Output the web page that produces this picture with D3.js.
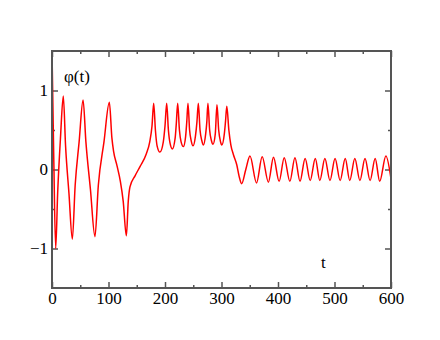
<!DOCTYPE html>
<html>
<head>
<meta charset="utf-8">
<script src="https://cdn.jsdelivr.net/npm/d3@7"></script>
<style>
  body { margin: 0; background: #fff; }
  text { font-family: "Liberation Serif", "DejaVu Serif", serif; }
</style>
</head>
<body>
<div id="chart"></div>
<script>
// values
var tValues = [0, 3, 6.5, 10, 15, 20, 24, 30, 36, 41, 48, 55, 60, 68, 76, 82, 92, 101.5,
  106, 109, 115, 121, 126, 131.6, 135, 138, 147, 156, 167, 173, 177, 180,
  183, 186, 191, 197, 200, 203, 206, 209, 213, 218, 220, 222.5, 225.5, 228.5, 232.5,
  236.5, 238.5, 240.7, 243.5, 246.5, 249.6, 254, 256.5, 259, 262, 265, 268,
  272, 274, 276, 279, 282, 285, 289, 292, 295, 298, 300.5, 305, 307, 309.4,
  313, 316.6, 321, 327, 331, 335.7, 343, 350.4, 362, 372, 383, 392, 402, 411,
  421, 430, 439, 448, 457, 466, 474, 483, 492, 501, 510, 519, 527, 536, 545,
  554, 563, 572, 580, 591, 600];
var phiValues = [1.5, 0.2, -1.0, -0.3, 0.4, 0.93, 0.3, -0.3, -0.88, -0.2, 0.35, 0.88, 0.35, -0.25, -0.85, -0.2, 0.35, 0.85,
  0.4, 0.23, 0.05, -0.15, -0.4, -0.84, -0.4, -0.22, -0.08, 0.04, 0.2, 0.35, 0.55, 0.84,
  0.5, 0.3, 0.22, 0.35, 0.55, 0.84, 0.5, 0.33, 0.26, 0.4, 0.58, 0.84, 0.5, 0.35, 0.29,
  0.42, 0.6, 0.84, 0.5, 0.36, 0.30, 0.43, 0.6, 0.84, 0.5, 0.37, 0.31,
  0.45, 0.6, 0.84, 0.5, 0.37, 0.32, 0.45, 0.82, 0.5, 0.36, 0.31, 0.45, 0.6, 0.80,
  0.5, 0.31, 0.19, 0.06, -0.08, -0.18, 0.0, 0.17, -0.17, 0.16, -0.16, 0.155, -0.15, 0.15,
  -0.15, 0.15, -0.15, 0.14, -0.14, 0.14, -0.14, 0.14, -0.14, 0.14, -0.14, 0.14, -0.14, 0.14, -0.14,
  0.14, -0.14, 0.14, -0.15, 0.17, -0.12];
var xMajorTicks = [0, 100, 200, 300, 400, 500, 600];
var xMinorTicks = [50, 150, 250, 350, 450, 550];
var yMajorTicks = [-1, 0, 1];
var yMinorTicks = [-0.5, 0.5];

var margin = {top: 51, right: 49, bottom: 52, left: 52},
  width = 440 - margin.left - margin.right,
  height = 340 - margin.top - margin.bottom;

var svg = d3.select("#chart")
  .append("svg")
  .attr("width", 440)
  .attr("height", 340)
  .append("g")
  .attr("transform", "translate(" + margin.left + "," + margin.top + ")");

var x = d3.scaleLinear().domain([0, 600]).range([0, width]);
var y = d3.scaleLinear().domain([-1.5, 1.5]).range([height, 0]);

var axisColor = "#555";

// ticks pointing inward on all four sides
function drawAxis(axis, transform, labels) {
  var g = svg.append("g").attr("transform", transform).call(axis);
  g.select(".domain").remove();
  g.selectAll(".tick line").attr("stroke", axisColor).attr("stroke-width", 1.5);
  g.selectAll("text")
    .attr("font-family", "Liberation Serif")
    .attr("font-size", 17)
    .attr("fill", "#000");
  if (!labels) g.selectAll("text").remove();
  return g;
}

drawAxis(d3.axisBottom(x).tickValues(xMajorTicks).tickSize(-6).tickPadding(4).tickFormat(d3.format("d")),
  "translate(0," + height + ")", true);
drawAxis(d3.axisBottom(x).tickValues(xMinorTicks).tickSize(-3), "translate(0," + height + ")", false);
drawAxis(d3.axisTop(x).tickValues(xMajorTicks).tickSize(-6), "translate(0,0)", false);
drawAxis(d3.axisTop(x).tickValues(xMinorTicks).tickSize(-3), "translate(0,0)", false);

drawAxis(d3.axisLeft(y).tickValues(yMajorTicks).tickSize(-6).tickPadding(4).tickFormat(d3.format("d")),
  "translate(0,0)", true);
drawAxis(d3.axisLeft(y).tickValues(yMinorTicks).tickSize(-3), "translate(0,0)", false);
drawAxis(d3.axisRight(y).tickValues(yMajorTicks).tickSize(-6), "translate(" + width + ",0)", false);
drawAxis(d3.axisRight(y).tickValues(yMinorTicks).tickSize(-3), "translate(" + width + ",0)", false);

// clip the curve to the plot area
svg.append("clipPath").attr("id", "clip")
  .append("rect").attr("width", width).attr("height", height);

var data = tValues.map(function(t, i) { return {t: t, phi: phiValues[i]}; });

var line = d3.line()
  .x(function(d) { return x(d.t); })
  .y(function(d) { return y(d.phi); })
  .curve(d3.curveMonotoneX);

svg.append("path")
  .datum(data)
  .attr("clip-path", "url(#clip)")
  .attr("fill", "none")
  .attr("stroke", "#ff0000")
  .attr("stroke-width", 1.5)
  .attr("d", line);

// frame
svg.append("rect")
  .attr("width", width)
  .attr("height", height)
  .attr("fill", "none")
  .attr("stroke", axisColor)
  .attr("stroke-width", 2);

// labels
svg.append("text")
  .attr("x", 12)
  .attr("y", 31)
  .attr("font-size", 17)
  .text("φ(t)");

svg.append("text")
  .attr("x", 269)
  .attr("y", 217)
  .attr("font-size", 17)
  .text("t");
</script>
</body>
</html>
